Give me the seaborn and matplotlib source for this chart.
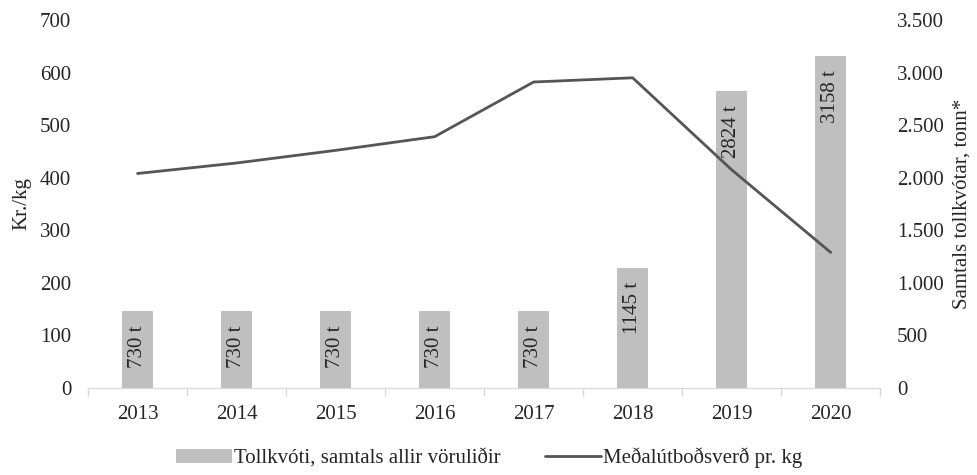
import numpy as np
import matplotlib.pyplot as plt
import matplotlib.ticker as mticker
import seaborn as sns

years = ['2013', '2014', '2015', '2016', '2017', '2018', '2019', '2020']
quota_tonnes = [730, 730, 730, 730, 730, 1145, 2824, 3158]
price_per_kg = [408, 428, 452, 478, 582, 590, 415, 258]

sns.set_style('white')
plt.rcParams['font.family'] = ['Liberation Serif', 'DejaVu Serif']
FS = 15

fig, ax = plt.subplots(figsize=(9.78, 4.75), dpi=100)
fig.subplots_adjust(left=0.09, right=0.9, top=0.958, bottom=0.183)
ax2 = ax.twinx()

# bars (right axis)
sns.barplot(x=years, y=quota_tonnes, color='#BFBFBF', width=0.31,
            saturation=1, ax=ax2, label='Tollkvóti, samtals allir vöruliðir',
            linewidth=0)
for bar, v in zip(ax2.patches, quota_tonnes):
    ax2.annotate(f'{v} t', (bar.get_x() + bar.get_width() / 2, bar.get_height()),
                 xytext=(0, -10), textcoords='offset points',
                 rotation=90, ha='center', va='top', fontsize=FS)

# line (left axis)
sns.pointplot(x=years, y=price_per_kg, color='#555555', markers='',
              linewidth=2, errorbar=None, ax=ax, label='Meðalútboðsverð pr. kg')

ax.set_zorder(ax2.get_zorder() + 1)
ax.patch.set_visible(False)

ax.set_ylim(0, 700)
ax.set_yticks(range(0, 701, 100))
ax2.set_ylim(0, 3500)
ax2.set_yticks(range(0, 3501, 500))
ax2.yaxis.set_major_formatter(mticker.FuncFormatter(lambda v, p: f'{int(v):,}'.replace(',', '.')))
ax.set_xlim(-0.5, len(years) - 0.5)

ax.set_ylabel('Kr./kg', fontsize=FS, labelpad=6)
ax2.set_ylabel('Samtals tollkvótar, tonn*', fontsize=FS, labelpad=6)
ax.set_xlabel('')

for a in (ax, ax2):
    for s in ('top', 'left', 'right'):
        a.spines[s].set_visible(False)
    a.spines['bottom'].set_color('#D9D9D9')
    a.tick_params(axis='y', length=0, pad=12, labelsize=FS)

ax.tick_params(axis='x', which='major', length=0, pad=12, labelsize=FS)
ax.set_xticks(np.arange(-0.5, len(years)), minor=True)
ax.tick_params(axis='x', which='minor', bottom=True, length=6, color='#D9D9D9', width=1)

h1, l1 = ax2.get_legend_handles_labels()
h2, l2 = ax.get_legend_handles_labels()
if ax.get_legend():
    ax.get_legend().remove()
if ax2.get_legend():
    ax2.get_legend().remove()
fig.legend(h1 + h2, l1 + l2, loc='lower center', ncol=2, frameon=False,
           bbox_to_anchor=(0.5, -0.025), handlelength=2.7, handletextpad=0.1,
           columnspacing=2.1, fontsize=FS)

fig.savefig('out.png', dpi=100)
